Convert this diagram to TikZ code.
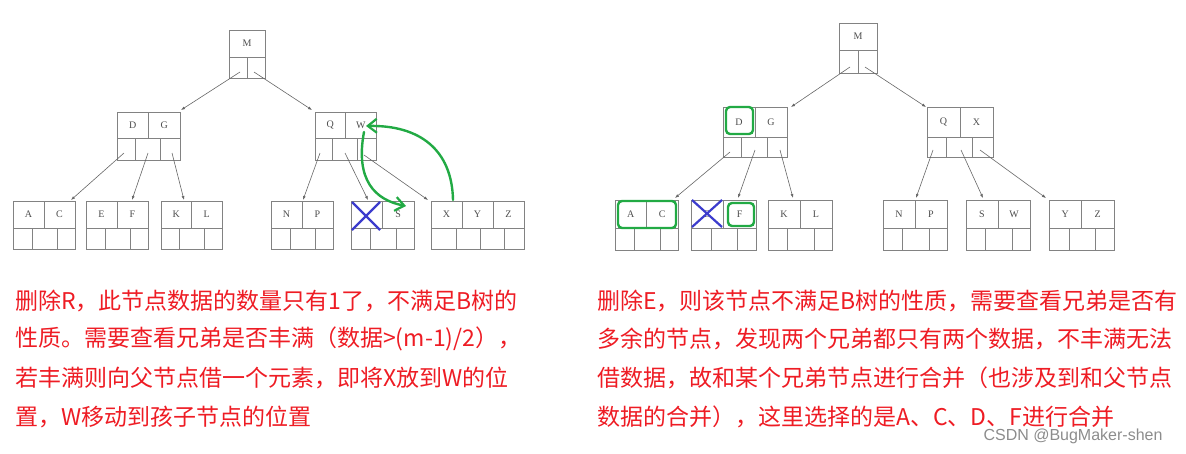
\documentclass[tikz,border=0pt]{standalone}
\usepackage{fontspec}
\newfontfamily\cjk{Noto Sans CJK SC}
\newfontfamily\keyf{Liberation Serif}
\usetikzlibrary{arrows.meta}
\definecolor{txtred}{RGB}{238,28,36}
\definecolor{mygreen}{RGB}{34,170,68}
\definecolor{myblue}{RGB}{60,60,205}
\definecolor{boxgray}{RGB}{130,130,130}
\tikzset{
  bx/.style={draw=boxgray,line width=0.9pt},
  key/.style={font=\keyf\fontsize{10}{10}\selectfont,text=black!70},
  arr/.style={draw=black!60,line width=0.6pt,-{Latex[length=4pt,width=3pt]}},
  gr/.style={draw=mygreen,line width=2.4pt,line cap=round},
  grarr/.style={gr,-{Straight Barb[length=9pt,width=14pt,line width=2.2pt]}},
  bl/.style={draw=myblue,line width=2.2pt},
  grbox/.style={draw=mygreen,line width=2.4pt,rounded corners=4pt},
  ln/.style={anchor=west,font=\cjk\fontsize{23}{23}\selectfont,text=txtred,inner sep=0pt}
}
% #1 name #2 x1 #3 x2 #4 y1 #5 ymid #6 y2 #7 bottom dividers #8 n keys #9 keys
\newcommand\btnode[9]{%
  \coordinate (#1-nw) at (#2,#4); \coordinate (#1-se) at (#3,#6);
  \draw[bx] (#1-nw) rectangle (#1-se);
  \draw[bx] (#2,#5) -- (#3,#5);
  \foreach \f in {#7} \draw[bx] ({#2+\f*(#3-#2)},#5) -- ({#2+\f*(#3-#2)},#6);
  \ifnum#8>1 \foreach \i in {2,...,#8} \draw[bx] ({#2+(\i-1)*(#3-#2)/#8},#4) -- ({#2+(\i-1)*(#3-#2)/#8},#5);\fi
  \foreach \k [count=\i] in {#9} \node[key] (#1-k\i) at ({#2+(\i-0.5)*(#3-#2)/#8},{(#4+#5)/2}) {\k};
}
\begin{document}
\begin{tikzpicture}[x=1pt,y=-1pt]
\useasboundingbox (0,0) rectangle (1186,453);
% ---------- left tree ----------
\btnode{LM}{229}{265}{30}{57}{78}{0.5}{1}{M}
\btnode{LDG}{117}{180}{112}{138}{160}{0.29,0.69}{2}{D,G}
\btnode{LQW}{315}{376}{112}{138}{160}{0.29,0.69}{2}{Q,W}
\btnode{LAC}{13}{75}{201}{228}{249}{0.31,0.72}{2}{A,C}
\btnode{LEF}{86}{148}{201}{228}{249}{0.31,0.72}{2}{E,F}
\btnode{LKL}{161}{222}{201}{228}{249}{0.31,0.72}{2}{K,L}
\btnode{LNP}{271}{333}{201}{228}{249}{0.31,0.72}{2}{N,P}
\btnode{LS}{351}{414}{201}{228}{249}{0.31,0.72}{2}{,S}
\btnode{LXYZ}{431}{524}{201}{228}{249}{0.27,0.53,0.79}{3}{X,Y,Z}
\foreach \b/\c/\d/\e in {240/72/181/110, 254/72/312/110,
  124/153/71/200, 148/153/132/200, 172/153/184/200,
  320/153/303/200, 345/153/368/200, 364/155/428/200}
  \draw[arr] (\b,\c) -- (\d,\e);
\draw[bl] (352,202) -- (380,230) (380,202) -- (352,230);
\draw[grarr] (453,200) .. controls (452,150) and (420,125) .. (366,126);
\draw[grarr] (364,132) .. controls (355,180) and (375,200) .. (406,206);
% ---------- right tree ----------
\btnode{RM}{839}{877}{23}{50}{73}{0.5}{1}{M}
\btnode{RDG}{723}{787}{107}{137}{157}{0.29,0.69}{2}{D,G}
\btnode{RQX}{927}{993}{107}{137}{157}{0.29,0.69}{2}{Q,X}
\btnode{RAC}{615}{678}{200}{228}{250}{0.31,0.72}{2}{A,C}
\btnode{REF}{691}{756}{200}{228}{250}{0.31,0.72}{2}{E,F}
\btnode{RKL}{768}{832}{200}{228}{250}{0.31,0.72}{2}{K,L}
\btnode{RNP}{883}{947}{200}{228}{250}{0.31,0.72}{2}{N,P}
\btnode{RSW}{966}{1030}{200}{228}{250}{0.31,0.72}{2}{S,W}
\btnode{RYZ}{1049}{1114}{200}{228}{250}{0.31,0.72}{2}{Y,Z}
\foreach \b/\c/\d/\e in {850/67/791/107, 865/67/926/107,
  730/152/675/198, 755/150/738/198, 780/150/793/198,
  933/150/916/198, 961/150/983/198, 980/150/1046/198}
  \draw[arr] (\b,\c) -- (\d,\e);
\draw[grbox] (726,107) rectangle (753,134);
\draw[grbox] (618,201) rectangle (676,228);
\draw[grbox] (728,203) rectangle (754,226);
\draw[bl] (692,200) -- (722,227) (722,200) -- (692,227);
% ---------- texts ----------
\node[ln] (l1) at (15,301) {删除R，此节点数据的数量只有1了，不满足B树的};
\node[ln] (l2) at (15,339) {性质。需要查看兄弟是否丰满（数据>(m-1)/2），};
\node[ln] (l3) at (15,378) {若丰满则向父节点借一个元素，即将X放到W的位};
\node[ln] (l4) at (15,417) {置，W移动到孩子节点的位置};
\node[ln] (r1) at (597,301) {删除E，则该节点不满足B树的性质，需要查看兄弟是否有};
\node[ln] (r2) at (597,339) {多余的节点，发现两个兄弟都只有两个数据，不丰满无法};
\node[ln] (r3) at (597,378) {借数据，故和某个兄弟节点进行合并（也涉及到和父节点};
\node[ln] (r4) at (597,417) {数据的合并），这里选择的是A、C、D、F进行合并};
\node[anchor=center,font=\fontspec{Liberation Sans}\fontsize{16}{16}\selectfont,text=black!45] (wm) at (1073,436) {CSDN @BugMaker-shen};
\end{tikzpicture}
\end{document}
